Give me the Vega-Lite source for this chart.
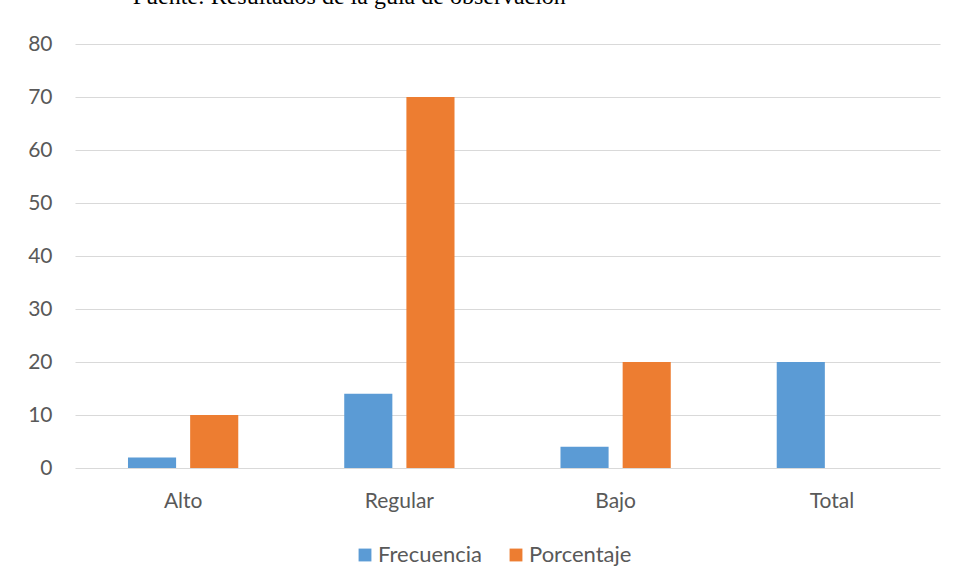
{
  "$schema": "https://vega.github.io/schema/vega-lite/v6.json",
  "width": 865,
  "height": 424,
  "autosize": {"type": "none"},
  "padding": {"left": 75, "top": 44, "right": 17, "bottom": 116},
  "background": "white",
  "title": {
    "text": "Fuente: Resultados de la guía de observación",
    "font": "Liberation Serif",
    "fontSize": 24,
    "fontWeight": "normal",
    "color": "#000000",
    "anchor": "start",
    "dx": 105,
    "baseline": "alphabetic",
    "offset": 5
  },
  "data": {
    "values": [
      {"categoria": "Alto", "serie": "Frecuencia", "valor": 2},
      {"categoria": "Alto", "serie": "Porcentaje", "valor": 10},
      {"categoria": "Regular", "serie": "Frecuencia", "valor": 14},
      {"categoria": "Regular", "serie": "Porcentaje", "valor": 70},
      {"categoria": "Bajo", "serie": "Frecuencia", "valor": 4},
      {"categoria": "Bajo", "serie": "Porcentaje", "valor": 20},
      {"categoria": "Total", "serie": "Frecuencia", "valor": 20}
    ]
  },
  "mark": {"type": "bar"},
  "encoding": {
    "x": {
      "field": "categoria",
      "type": "nominal",
      "sort": ["Alto", "Regular", "Bajo", "Total"],
      "scale": {"paddingInner": 0.49, "paddingOuter": 0.245},
      "axis": {
        "title": null,
        "labelAngle": 0,
        "domain": false,
        "ticks": false,
        "labelPadding": 22,
        "labelFont": "Lato",
        "labelFontSize": 21,
        "labelColor": "#595959"
      }
    },
    "xOffset": {
      "field": "serie",
      "type": "nominal",
      "scale": {"domain": ["Frecuencia", "Porcentaje"], "paddingInner": 0.226, "paddingOuter": 0}
    },
    "y": {
      "field": "valor",
      "type": "quantitative",
      "scale": {"domain": [0, 80], "nice": false},
      "axis": {
        "title": null,
        "values": [0, 10, 20, 30, 40, 50, 60, 70, 80],
        "domain": false,
        "ticks": false,
        "labelPadding": 23,
        "labelFont": "Lato",
        "labelFontSize": 21,
        "labelColor": "#595959",
        "gridColor": "#d9d9d9",
        "gridWidth": 1
      }
    },
    "color": {
      "field": "serie",
      "type": "nominal",
      "scale": {"domain": ["Frecuencia", "Porcentaje"], "range": ["#5B9BD5", "#ED7D31"]},
      "legend": {
        "title": null,
        "orient": "none",
        "legendX": 279,
        "legendY": 500,
        "direction": "horizontal",
        "symbolType": "square",
        "symbolSize": 165,
        "symbolStrokeWidth": 0,
        "labelFont": "Lato",
        "labelFontSize": 22,
        "labelColor": "#595959",
        "columnPadding": 22,
        "labelOffset": 2
      }
    }
  },
  "config": {
    "view": {"stroke": null}
  }
}
